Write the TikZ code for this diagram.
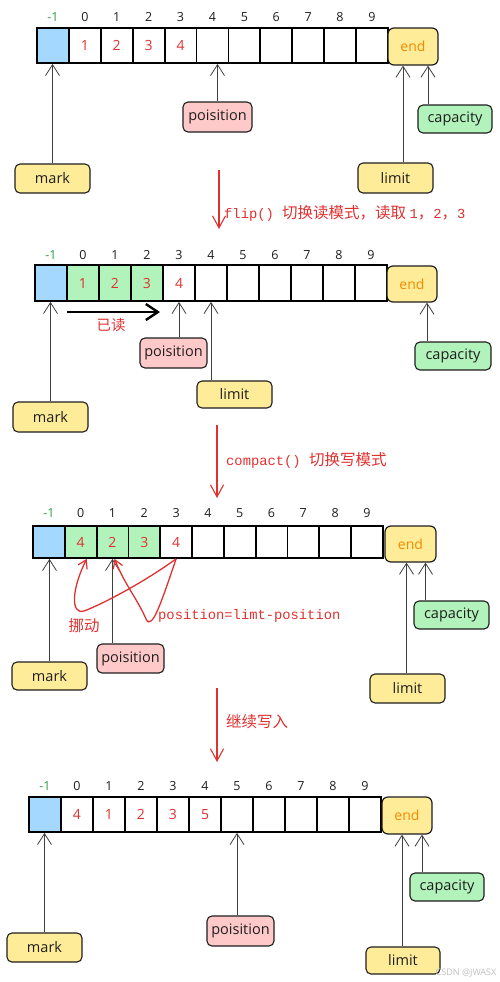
\documentclass[tikz,border=0pt]{standalone}
\usepackage{fontspec}
\setmainfont{Open Sans}
\newfontfamily\cjk{Noto Sans CJK SC}
\newfontfamily\mono{Liberation Mono}
\usetikzlibrary{arrows.meta}
\definecolor{cblue}{HTML}{A5D8FF}
\definecolor{cgreen}{HTML}{B2F2BB}
\definecolor{cyellow}{HTML}{FFEC99}
\definecolor{cpink}{HTML}{FFC9C9}
\definecolor{cred}{HTML}{E03131}
\definecolor{corange}{HTML}{F08C00}
\definecolor{cdkgreen}{HTML}{2F9E44}
\definecolor{cink}{HTML}{1E1E1E}
\begin{document}
\begin{tikzpicture}[x=1pt,y=-1pt,
  cell/.style={draw=black,line width=1.8pt,inner sep=0pt,text=cred,font=\fontsize{14}{14}\selectfont},
  idx/.style={inner sep=0pt,text=cink,font=\fontsize{12.5}{12.5}\selectfont},
  endbox/.style={draw=cink,line width=1.2pt,rounded corners=6pt,fill=cyellow,text=corange,font=\fontsize{14}{14}\selectfont,inner sep=0pt},
  lab/.style={draw=cink,line width=1.1pt,rounded corners=5pt,inner sep=0pt,text=cink,font=\fontsize{14.5}{14.5}\selectfont},
  ptr/.style={draw=cink!85,line width=0.8pt,-{Straight Barb[length=11pt,width=14pt,line width=0.8pt]}},
  redarr/.style={draw=cred,line width=1.1pt,-{Straight Barb[length=12pt,width=13pt,line width=1.1pt]}},
  redcurve/.style={draw=cred,line width=1.3pt,-{Straight Barb[length=8pt,width=10pt,line width=1.2pt]}},
  redtxt/.style={text=cred,inner sep=0pt},
]
\useasboundingbox (0,0) rectangle (500,982);
\fill[white] (0,0) rectangle (500,982);

% ================= Panel 1 =================
\foreach \i/\t/\f in {0//cblue,1/1/white,2/2/white,3/3/white,4/4/white,5//white,6//white,7//white,8//white,9//white,10//white}
  \node[cell,minimum width=31.9pt,minimum height=35pt,fill=\f] (a\i) at ({37+31.9*(\i+0.5)},45.5) {\t};
\node[idx,text=cdkgreen] (aim) at ({37+31.9*0.5},17) {-1};
\foreach \i in {0,...,9}
  \node[idx] (ai\i) at ({37+31.9*(\i+1.5)},17) {\i};
\node[endbox,minimum width=50pt,minimum height=37pt] (aend) at (413,46.5) {end};
\node[lab,fill=cyellow,minimum width=75pt,minimum height=29pt] (amark) at (52.5,178.5) {mark};
\node[lab,fill=cpink,minimum width=69pt,minimum height=30pt] (apos) at (217.5,117) {poisition};
\node[lab,fill=cyellow,minimum width=75pt,minimum height=30pt] (alimit) at (395.5,178) {limit};
\node[lab,fill=cgreen,minimum width=74pt,minimum height=28pt] (acapacity) at (455,119) {capacity};
\draw[ptr] (amark.north) -- (amark.north |- a0.south);
\draw[ptr] (apos.north) -- (apos.north |- a5.south);
\coordinate (alim) at ([xshift=-10pt]aend.south);
\draw[ptr] (alim |- alimit.north) -- (alim);
\coordinate (acap) at ([xshift=15pt]aend.south);
\draw[ptr] (acap |- acapacity.north) -- (acap);

% transition 1
\coordinate (t1s) at (219,170);
\coordinate (t1e) at (219,229);
\draw[redarr] (t1s) -- (t1e);
\node[redtxt,anchor=west] (t1lab) at (224,213) {\fontsize{13.8}{14}\mono flip() \cjk\fontsize{15.5}{15}\selectfont 切换读模式，读取 \mono\fontsize{13.8}{14}\selectfont 1\cjk\fontsize{15.5}{15}\selectfont ，\mono\fontsize{13.8}{14}\selectfont 2\cjk\fontsize{15.5}{15}\selectfont ，\mono\fontsize{13.8}{14}\selectfont 3};

% ================= Panel 2 =================
\foreach \i/\t/\f in {0//cblue,1/1/cgreen,2/2/cgreen,3/3/cgreen,4/4/white,5//white,6//white,7//white,8//white,9//white,10//white}
  \node[cell,minimum width=32pt,minimum height=36pt,fill=\f] (b\i) at ({35+32*(\i+0.5)},283) {\t};
\node[idx,text=cdkgreen] (bim) at ({35+32*0.5},255) {-1};
\foreach \i in {0,...,9}
  \node[idx] (bi\i) at ({35+32*(\i+1.5)},255) {\i};
\node[endbox,minimum width=50pt,minimum height=36pt] (bend) at (412,284) {end};
\node[lab,fill=cyellow,minimum width=75pt,minimum height=30pt] (bmark) at (50.5,417) {mark};
\node[lab,fill=cpink,minimum width=67pt,minimum height=30pt] (bpos) at (173.5,353) {poisition};
\node[lab,fill=cyellow,minimum width=75pt,minimum height=27pt] (blimit) at (234.5,394.5) {limit};
\node[lab,fill=cgreen,minimum width=76pt,minimum height=28pt] (bcapacity) at (453,356) {capacity};
\draw[ptr] (bmark.north) -- (bmark.north |- b0.south);
\draw[ptr] (b4.south |- bpos.north) -- (b4.south);
\draw[ptr] (b5.south |- blimit.north) -- (b5.south);
\coordinate (bcap) at ([xshift=15pt]bend.south);
\draw[ptr] (bcap |- bcapacity.north) -- (bcap);
\coordinate (rs) at (67,312);
\coordinate (re) at (160,312);
\draw[line width=2.6pt,black,-{Straight Barb[length=12pt,width=16pt,line width=2.4pt]}] (rs) -- (re);
\node[redtxt,font=\cjk\fontsize{14.5}{14}\selectfont] (rlab) at (111,325) {已读};

% transition 2
\coordinate (t2s) at (217,425);
\coordinate (t2e) at (217,498);
\draw[redarr] (t2s) -- (t2e);
\node[redtxt,anchor=west] (t2lab) at (226,460) {\mono\fontsize{13.8}{14}\selectfont compact() \cjk\fontsize{15.5}{15}\selectfont 切换写模式};

% ================= Panel 3 =================
\foreach \i/\t/\f in {0//cblue,1/4/cgreen,2/2/cgreen,3/3/cgreen,4/4/white,5//white,6//white,7//white,8//white,9//white,10//white}
  \node[cell,minimum width=31.8pt,minimum height=32pt,fill=\f] (c\i) at ({33+31.8*(\i+0.5)},542) {\t};
\node[idx,text=cdkgreen] (cim) at ({33+31.8*0.5},513) {-1};
\foreach \i in {0,...,9}
  \node[idx] (ci\i) at ({33+31.8*(\i+1.5)},513) {\i};
\node[endbox,minimum width=51pt,minimum height=36pt] (cend) at (410.5,544) {end};
\node[lab,fill=cyellow,minimum width=75pt,minimum height=28pt] (cmark) at (49.5,676) {mark};
\node[lab,fill=cpink,minimum width=67pt,minimum height=29pt] (cpos) at (130.5,658.5) {poisition};
\node[lab,fill=cyellow,minimum width=75pt,minimum height=29pt] (climit) at (407.5,688.5) {limit};
\node[lab,fill=cgreen,minimum width=75pt,minimum height=28pt] (ccapacity) at (451.5,615) {capacity};
\draw[ptr] (cmark.north) -- (cmark.north |- c0.south);
\draw[ptr] (c2.south |- cpos.north) -- (c2.south);
\coordinate (clim) at ([xshift=-4pt]cend.south);
\draw[ptr] (clim |- climit.north) -- (clim);
\coordinate (ccap) at ([xshift=15pt]cend.south);
\draw[ptr] (ccap |- ccapacity.north) -- (ccap);
\coordinate (mvA) at ([xshift=2pt]c2.south);
\coordinate (mvB) at ([xshift=6pt]c1.south);
\draw[redcurve] (c4.south) .. controls (162,600) and (152,632) .. (146,619) .. controls (138,600) and (125,585) .. (mvA);
\draw[redcurve] (c4.south) .. controls (140,585) and (98,606) .. (84,611) .. controls (70,615) and (72,588) .. (mvB);
\node[redtxt,font=\cjk\fontsize{15.5}{15}\selectfont] (mvlab) at (84,626) {挪动};
\node[redtxt,anchor=west,font=\mono\fontsize{13.8}{14}\selectfont] (plab) at (158,616) {position=limt-position};

% transition 3
\coordinate (t3s) at (217,688);
\coordinate (t3e) at (217,762);
\draw[redarr] (t3s) -- (t3e);
\node[redtxt,anchor=west,font=\cjk\fontsize{15.5}{15}\selectfont] (t3lab) at (226,722) {继续写入};

% ================= Panel 4 =================
\foreach \i/\t/\f in {0//cblue,1/4/white,2/1/white,3/2/white,4/3/white,5/5/white,6//white,7//white,8//white,9//white,10//white}
  \node[cell,minimum width=32pt,minimum height=35pt,fill=\f] (d\i) at ({29+32*(\i+0.5)},814.5) {\t};
\node[idx,text=cdkgreen] (dim) at ({29+32*0.5},786) {-1};
\foreach \i in {0,...,9}
  \node[idx] (di\i) at ({29+32*(\i+1.5)},786) {\i};
\node[endbox,minimum width=50pt,minimum height=37pt] (dend) at (407,815.5) {end};
\node[lab,fill=cyellow,minimum width=75pt,minimum height=29pt] (dmark) at (44.5,947.5) {mark};
\node[lab,fill=cpink,minimum width=67pt,minimum height=30pt] (dpos) at (240.5,931) {poisition};
\node[lab,fill=cyellow,minimum width=74pt,minimum height=27pt] (dlimit) at (403,960.5) {limit};
\node[lab,fill=cgreen,minimum width=74pt,minimum height=28pt] (dcapacity) at (447,887) {capacity};
\draw[ptr] (dmark.north) -- (dmark.north |- d0.south);
\draw[ptr] (d6.south |- dpos.north) -- (d6.south);
\coordinate (dlim) at ([xshift=-5pt]dend.south);
\draw[ptr] (dlim |- dlimit.north) -- (dlim);
\coordinate (dcap) at ([xshift=15pt]dend.south);
\draw[ptr] (dcap |- dcapacity.north) -- (dcap);

\node[text=black!25,inner sep=0pt,font=\fontsize{9}{9}\selectfont] (wm) at (466,973) {CSDN @JWASX};
\end{tikzpicture}
\end{document}
